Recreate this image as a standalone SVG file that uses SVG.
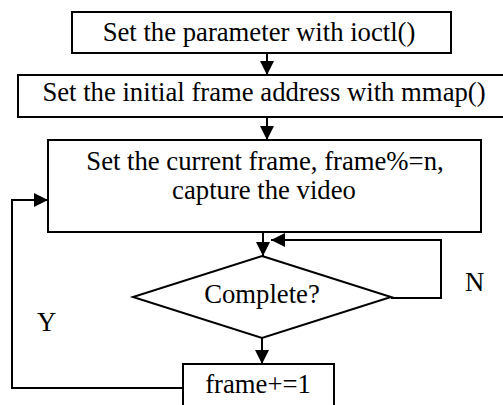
<svg xmlns="http://www.w3.org/2000/svg" width="503" height="405" viewBox="0 0 503 405">
<style>
.box{fill:#fff;stroke:#000;stroke-width:2}
.ln{fill:none;stroke:#000;stroke-width:2}
text{font-family:"Liberation Serif","Times New Roman",serif;font-size:26.7px;fill:#000}
.c{text-anchor:middle}
</style>
<defs>
<marker id="ah" markerUnits="userSpaceOnUse" markerWidth="15" markerHeight="15" refX="14" refY="7" orient="auto">
<path d="M0,0 L14,7 L0,14 Z" fill="#000"/>
</marker>
</defs>
<rect width="503" height="405" fill="#fff"/>
<g id="connectors">
<line class="ln" x1="267" y1="53" x2="267" y2="75" marker-end="url(#ah)"/>
<line class="ln" x1="267" y1="117" x2="267" y2="140" marker-end="url(#ah)"/>
<line class="ln" x1="263" y1="232" x2="263" y2="256" marker-end="url(#ah)"/>
<polyline class="ln" points="391,298 441,298 441,240 271,240" marker-end="url(#ah)"/>
<line class="ln" x1="262" y1="338" x2="262" y2="364" marker-end="url(#ah)"/>
<polyline class="ln" points="183,388 12,388 12,200 48,200" marker-end="url(#ah)"/>
</g>
<g id="n1">
<rect class="box" x="72" y="12" width="379" height="41"/>
<text class="c" x="259" y="41">Set the parameter with ioctl()</text>
</g>
<g id="n2">
<rect class="box" x="18" y="75" width="490" height="42"/>
<text class="c" x="264" y="101">Set the initial frame address with mmap()</text>
</g>
<g id="n3">
<rect class="box" x="48" y="140" width="433" height="92"/>
<text class="c" x="265" y="170">Set the current frame, frame%=n,</text>
<text class="c" x="264" y="199">capture the video</text>
</g>
<g id="n4">
<polygon class="box" points="262,256 391,297 262,338 133,297"/>
<text class="c" x="262" y="303">Complete?</text>
</g>
<g id="n5">
<rect class="box" x="183" y="364" width="151" height="50"/>
<text class="c" x="258" y="393">frame+=1</text>
</g>
<g id="labels">
<text x="465" y="291">N</text>
<text x="37" y="331">Y</text>
</g>
</svg>
